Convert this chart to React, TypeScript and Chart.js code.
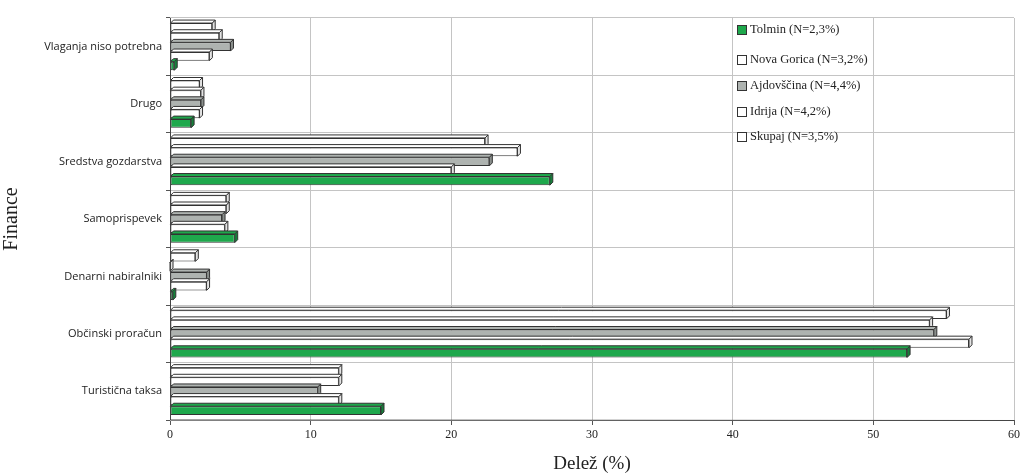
import React, { useEffect, useRef } from "react";
import { Chart, registerables } from "chart.js";

Chart.register(...registerables);

const categories = [
  "Vlaganja niso potrebna",
  "Drugo",
  "Sredstva gozdarstva",
  "Samoprispevek",
  "Denarni nabiralniki",
  "Občinski proračun",
  "Turistična taksa",
];

const tolmin = [0.3, 1.5, 27.0, 4.6, 0.2, 52.4, 15.0];
const novaGorica = [2.8, 2.1, 20.0, 3.9, 2.6, 56.8, 12.0];
const ajdovscina = [4.3, 2.2, 22.7, 3.7, 2.6, 54.3, 10.5];
const idrija = [3.5, 2.2, 24.7, 4.0, 0, 54.0, 12.0];
const skupaj = [3.0, 2.1, 22.4, 4.0, 1.8, 55.2, 12.0];

const legendLabels = [
  "Tolmin (N=2,3%)",
  "Nova Gorica (N=3,2%)",
  "Ajdovščina (N=4,4%)",
  "Idrija (N=4,2%)",
  "Skupaj (N=3,5%)",
];

const xTicks = [0, 10, 20, 30, 40, 50, 60];

const GREEN = "#1ea84c";
const GRAY = "#aeb3b0";
const WHITE = "#ffffff";
const EDGE = "#333333";

const legendColors = [GREEN, WHITE, GRAY, WHITE, WHITE];
const sideColors: Record<string, string> = {
  [GREEN]: "#15803a",
  [GRAY]: "#8a8f8c",
  [WHITE]: "#e4e4e4",
};

const legendPlugin = {
  id: "customLegend",
  afterDraw(chart: any) {
    const ctx = chart.ctx;
    const area = chart.chartArea;
    const x0 = area.left + 567;
    const ys = [30, 60, 86, 112, 137];
    ctx.save();
    ctx.font = "12.5px 'Liberation Serif', serif";
    ctx.textBaseline = "middle";
    legendLabels.forEach((lab, i) => {
      const y = ys[i];
      ctx.fillStyle = legendColors[i];
      ctx.fillRect(x0, y - 5, 10, 10);
      ctx.strokeStyle = EDGE;
      ctx.lineWidth = 1;
      ctx.strokeRect(x0 + 0.5, y - 4.5, 9, 9);
      ctx.fillStyle = "#222";
      ctx.fillText(lab, x0 + 13, y);
    });
    ctx.restore();
  },
};

const depthPlugin = {
  id: "depth",
  afterDatasetsDraw(chart: any) {
    const ctx = chart.ctx;
    const d = 3;
    ctx.save();
    ctx.lineWidth = 1;
    ctx.strokeStyle = EDGE;
    chart.data.datasets.forEach((ds: any, di: number) => {
      const meta = chart.getDatasetMeta(di);
      meta.data.forEach((bar: any) => {
        const { x, y, base, height } = bar.getProps(["x", "y", "base", "height"], true);
        const top = y - height / 2;
        const bottom = y + height / 2;
        ctx.fillStyle = sideColors[ds.backgroundColor] || "#ddd";
        ctx.beginPath();
        ctx.moveTo(x, top);
        ctx.lineTo(x + d, top - d);
        ctx.lineTo(x + d, bottom - d);
        ctx.lineTo(x, bottom);
        ctx.closePath();
        ctx.fill();
        ctx.stroke();
        ctx.fillStyle = ds.backgroundColor;
        ctx.beginPath();
        ctx.moveTo(base, top);
        ctx.lineTo(base + d, top - d);
        ctx.lineTo(x + d, top - d);
        ctx.lineTo(x, top);
        ctx.closePath();
        ctx.fill();
        ctx.stroke();
      });
    });
    ctx.restore();
  },
};

const framePlugin = {
  id: "frame",
  afterDatasetsDraw(chart: any) {
    const ctx = chart.ctx;
    const a = chart.chartArea;
    ctx.save();
    ctx.strokeStyle = "#444";
    ctx.lineWidth = 1;
    ctx.beginPath();
    ctx.moveTo(a.left + 0.5, a.top);
    ctx.lineTo(a.left + 0.5, a.bottom);
    ctx.lineTo(a.right, a.bottom + 0.5);
    ctx.stroke();
    ctx.restore();
  },
};

export default function App() {
  const ref = useRef<HTMLCanvasElement>(null);
  useEffect(() => {
    if (!ref.current) return;
    const mk = (label: string, data: number[], color: string) => ({
      label,
      data,
      backgroundColor: color,
      borderColor: EDGE,
      borderWidth: 1,
      borderSkipped: false,
      categoryPercentage: 0.84,
      barPercentage: 0.9,
    });
    const chart = new Chart(ref.current, {
      type: "bar",
      data: {
        labels: categories,
        datasets: [
          mk("Skupaj", skupaj, WHITE),
          mk("Idrija", idrija, WHITE),
          mk("Ajdovščina", ajdovscina, GRAY),
          mk("Nova Gorica", novaGorica, WHITE),
          mk("Tolmin", tolmin, GREEN),
        ],
      },
      options: {
        indexAxis: "y",
        animation: false,
        responsive: true,
        maintainAspectRatio: false,
        layout: { padding: { top: 18, right: 8, left: 0, bottom: 0 } },
        plugins: {
          legend: { display: false },
          tooltip: { enabled: false },
        },
        scales: {
          x: {
            min: 0,
            max: 60,
            afterBuildTicks(scale: any) {
              scale.ticks = xTicks.map((v) => ({ value: v }));
            },
            afterFit(scale: any) {
              scale.height = 55;
            },
            grid: { color: "#c4c4c4", drawTicks: true, tickLength: 5, tickColor: "#555" },
            border: { display: false },
            ticks: {
              color: "#222",
              font: { family: "'Liberation Serif', serif", size: 12 },
              padding: 3,
            },
            title: {
              display: true,
              text: "Delež (%)",
              color: "#222",
              font: { family: "'Liberation Serif', serif", size: 19 },
              padding: { top: 0, bottom: 0 },
            },
          },
          y: {
            afterFit(scale: any) {
              scale.width = 170;
            },
            grid: { color: "#c4c4c4", drawTicks: true, tickLength: 4, tickColor: "#555", offset: true },
            border: { display: false },
            ticks: {
              color: "#222",
              font: { family: "'Open Sans', sans-serif", size: 11 },
              padding: 4,
            },
            title: {
              display: true,
              text: "Finance",
              color: "#222",
              font: { family: "'Liberation Serif', serif", size: 20 },
              padding: { top: 0, bottom: 0 },
            },
          },
        },
      },
      plugins: [depthPlugin, framePlugin, legendPlugin],
    });
    return () => chart.destroy();
  }, []);
  return (
    <div style={{ position: "fixed", left: 0, top: 0, width: 1023, height: 475, background: "#fff" }}>
      <canvas ref={ref} />
    </div>
  );
}
